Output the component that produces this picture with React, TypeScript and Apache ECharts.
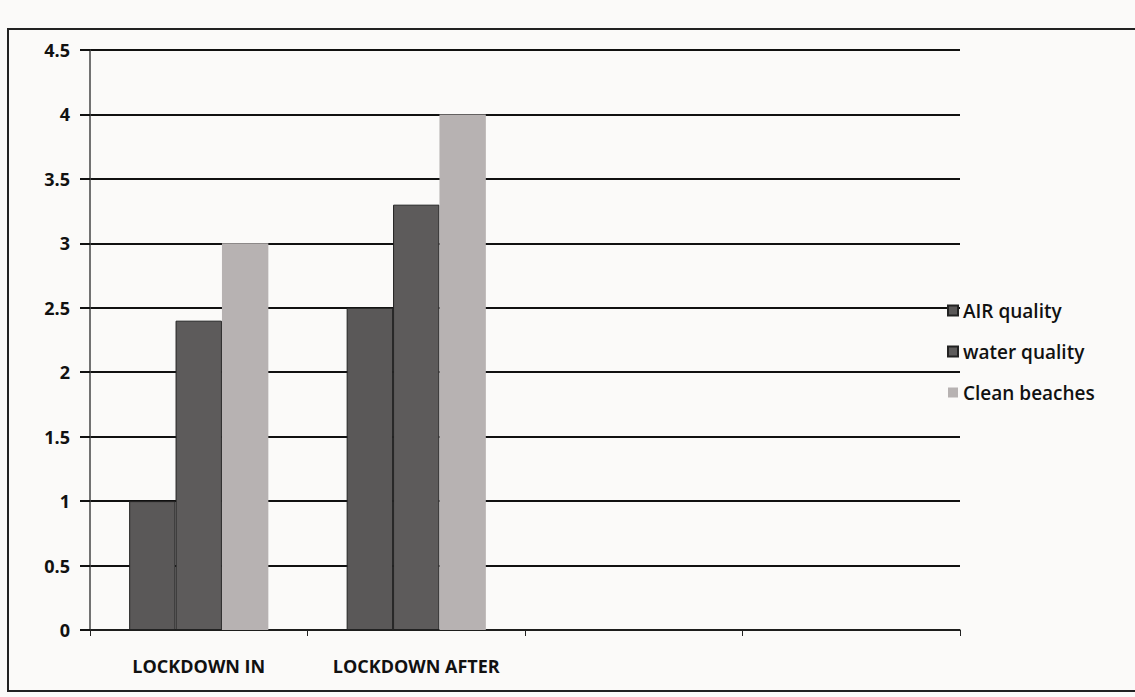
import React, { useEffect, useRef } from "react";
import * as echarts from "echarts";

const categories = ["LOCKDOWN IN", "LOCKDOWN AFTER", "", ""];
const airQuality = [1, 2.5];
const waterQuality = [2.4, 3.3];
const cleanBeaches = [3, 4];
const seriesNames = ["AIR quality", "water quality", "Clean beaches"];

export default function App() {
  const ref = useRef<HTMLDivElement>(null);
  useEffect(() => {
    if (!ref.current) return;
    const chart = echarts.init(ref.current, undefined, { renderer: "svg" });
    const font = "Open Sans";
    chart.setOption({
      animation: false,
      backgroundColor: "#fbfaf9",
      graphic: [
        {
          type: "rect",
          shape: { x: 8, y: 29, width: 1140, height: 662 },
          style: { fill: "none", stroke: "#222", lineWidth: 2 },
        },
      ],
      grid: { left: 90, right: 175, top: 50, bottom: 67 },
      legend: {
        orient: "vertical",
        left: 942,
        top: 296,
        itemGap: 22,
        itemWidth: 10,
        itemHeight: 10,
        icon: "rect",
        textStyle: {
          fontFamily: font,
          fontSize: 19,
          fontWeight: 600,
          color: "#111",
          letterSpacing: -1,
        },
        data: seriesNames,
      },
      xAxis: {
        type: "category",
        data: categories,
        axisLine: { lineStyle: { color: "#222", width: 1.5 } },
        axisTick: { show: true, interval: 0, length: 6, lineStyle: { color: "#222" } },
        axisLabel: {
          interval: 0,
          hideOverlap: false,
          margin: 27,
          fontFamily: font,
          fontSize: 18,
          fontWeight: "bold",
          color: "#111",
          letterSpacing: -1.2,
        },
      },
      yAxis: {
        type: "value",
        min: 0,
        max: 4.5,
        interval: 0.5,
        axisLine: { show: true, lineStyle: { color: "#444", width: 1.5 } },
        axisTick: { show: true, length: 10, lineStyle: { color: "#111", width: 2 } },
        splitLine: { lineStyle: { color: "#111", width: 2 } },
        axisLabel: {
          margin: 20,
          fontFamily: font,
          fontSize: 18,
          fontWeight: "bold",
          color: "#111",
          letterSpacing: -1,
        },
      },
      series: [
        {
          name: seriesNames[0],
          type: "bar",
          data: airQuality,
          barGap: "0%",
          barCategoryGap: "36%",
          itemStyle: { color: "#5a5858", borderColor: "#222", borderWidth: 1 },
        },
        {
          name: seriesNames[1],
          type: "bar",
          data: waterQuality,
          itemStyle: { color: "#5d5b5b", borderColor: "#222", borderWidth: 1 },
        },
        {
          name: seriesNames[2],
          type: "bar",
          data: cleanBeaches,
          itemStyle: { color: "#b7b2b2" },
        },
      ],
    });
    return () => chart.dispose();
  }, []);
  return (
    <div
      ref={ref}
      style={{ position: "absolute", left: 0, top: 0, width: 1135, height: 697 }}
    />
  );
}
